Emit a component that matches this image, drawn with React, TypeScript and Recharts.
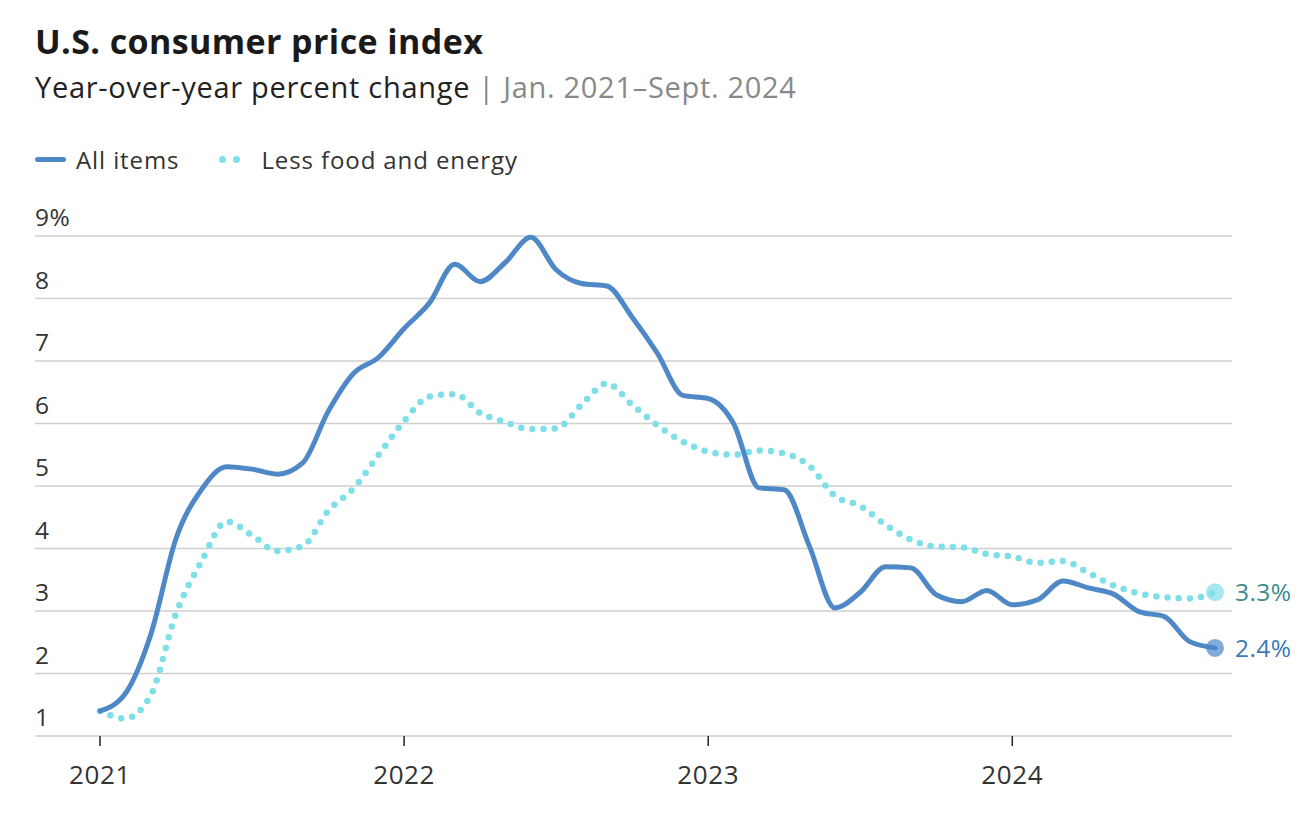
import { LineChart, Line, XAxis, YAxis, CartesianGrid } from 'recharts';

// months since Jan. 2021 (0 = Jan. 2021, 44 = Sept. 2024)
const allItems = [
  1.4, 1.68, 2.62, 4.16, 4.94, 5.31, 5.27, 5.19, 5.37, 6.19, 6.8, 7.06,
  7.52, 7.93, 8.55, 8.27, 8.58, 8.98, 8.46, 8.24, 8.2, 7.7, 7.12, 6.45,
  6.4, 6.0, 4.97, 4.94, 4.03, 3.05, 3.3, 3.71, 3.69, 3.26, 3.15, 3.33,
  3.1, 3.18, 3.48, 3.37, 3.27, 2.99, 2.91, 2.51, 2.41,
];

const lessFoodEnergy = [
  1.4, 1.28, 1.65, 2.96, 3.79, 4.43, 4.21, 3.96, 4.04, 4.6, 4.96, 5.5,
  6.04, 6.43, 6.47, 6.17, 6.02, 5.91, 5.92, 6.3, 6.64, 6.3, 5.97, 5.71,
  5.55, 5.5, 5.57, 5.52, 5.32, 4.84, 4.68, 4.38, 4.14, 4.03, 4.02, 3.91,
  3.87, 3.77, 3.8, 3.61, 3.41, 3.28, 3.22, 3.2, 3.3,
];

const yearTicks = [0, 12, 24, 36];
const yearLabels = ['2021', '2022', '2023', '2024'];
const yTicks = [1, 2, 3, 4, 5, 6, 7, 8, 9];

const endLabels = ['2.4%', '3.3%'];

const BLUE = '#4f88c6';
const CYAN = '#7fdfe9';
const FONT = '"Open Sans", "Noto Sans", sans-serif';

const data = allItems.map((v, i) => ({ m: i, all: v, core: lessFoodEnergy[i] }));
const last = data.length - 1;

function YTick(props: any) {
  const { y, payload } = props;
  const label = payload.value === 9 ? '9%' : String(payload.value);
  return (
    <text x={35} y={y - 10} fontSize={24.5} fill="#333" fontFamily={FONT} letterSpacing={0.4}>
      {label}
    </text>
  );
}

function XTick(props: any) {
  const { x, y, payload } = props;
  const idx = yearTicks.indexOf(payload.value);
  return (
    <text x={x} y={y + 36} textAnchor="middle" fontSize={26} fill="#333" fontFamily={FONT} letterSpacing={0.6}>
      {yearLabels[idx]}
    </text>
  );
}

function endDot(fill: string, textColor: string, label: string) {
  return (props: any) => {
    const { cx, cy, index } = props;
    if (index !== last) return <g key={`d-${index}`} />;
    return (
      <g key={`d-${index}`}>
        <circle cx={cx} cy={cy} r={9} fill={fill} />
        <text x={cx + 20} y={cy + 9} fontSize={24.5} fill={textColor} fontFamily={FONT} letterSpacing={0.4}>
          {label}
        </text>
      </g>
    );
  };
}

export default function App() {
  return (
    <div style={{ position: 'absolute', left: 0, top: 0, width: 1306, height: 818, background: '#fff', fontFamily: FONT }}>
      <div style={{ position: 'absolute', left: 35, top: 18, fontSize: 34, fontWeight: 700, color: '#1a1a1a', whiteSpace: 'nowrap', letterSpacing: 0.4 }}>
        U.S. consumer price index
      </div>
      <div style={{ position: 'absolute', left: 35, top: 67, fontSize: 29, color: '#222', whiteSpace: 'nowrap', letterSpacing: 0.7 }}>
        Year-over-year percent change <span style={{ color: '#888' }}>| Jan. 2021–Sept. 2024</span>
      </div>
      <div style={{ position: 'absolute', left: 35, top: 143, fontSize: 24, color: '#333', whiteSpace: 'nowrap', display: 'flex', alignItems: 'center', letterSpacing: 0.9 }}>
        <span style={{ display: 'inline-block', width: 31, height: 5, borderRadius: 3, background: BLUE, marginRight: 10 }} />
        <span>All items</span>
        <span style={{ display: 'inline-block', width: 7, height: 7, borderRadius: 4, background: CYAN, marginLeft: 40 }} />
        <span style={{ display: 'inline-block', width: 7, height: 7, borderRadius: 4, background: CYAN, marginLeft: 7, marginRight: 21 }} />
        <span>Less food and energy</span>
      </div>
      <div style={{ position: 'absolute', left: 0, top: 0 }}>
        <LineChart width={1306} height={818} data={data} margin={{ top: 236, right: 74, bottom: 32, left: 0 }}>
          <CartesianGrid vertical={false} stroke="#cfcfcf" strokeWidth={1.5} />
          <XAxis
            dataKey="m"
            type="number"
            domain={[-2.566, 44.67]}
            ticks={yearTicks}
            tick={<XTick />}
            tickLine={{ stroke: '#222', strokeWidth: 1.5 }}
            tickSize={10}
            axisLine={false}
            height={50}
          />
          <YAxis
            type="number"
            domain={[1, 9]}
            ticks={yTicks}
            tick={<YTick />}
            axisLine={false}
            tickLine={false}
            width={35}
          />
          <Line
            type="monotone"
            dataKey="core"
            stroke={CYAN}
            strokeWidth={6.5}
            strokeDasharray="0 11.2"
            strokeLinecap="round"
            dot={endDot('rgba(127,223,233,0.7)', '#3a8a8e', endLabels[1])}
            activeDot={false}
            isAnimationActive={false}
          />
          <Line
            type="monotone"
            dataKey="all"
            stroke={BLUE}
            strokeWidth={5}
            strokeLinecap="round"
            dot={endDot('rgba(79,136,198,0.7)', '#3c78b6', endLabels[0])}
            activeDot={false}
            isAnimationActive={false}
          />
        </LineChart>
      </div>
    </div>
  );
}
